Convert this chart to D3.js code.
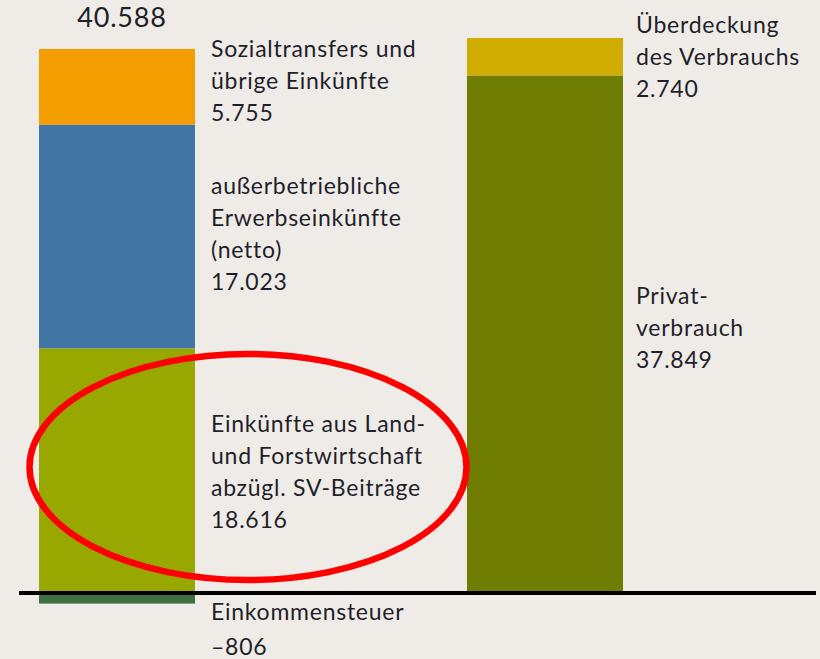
<!DOCTYPE html>
<html>
<head>
<meta charset="utf-8">
<script src="https://cdn.jsdelivr.net/npm/d3@7"></script>
<style>
  html, body { margin: 0; padding: 0; background: #efece8; }
  svg { display: block; }
  text { font-family: Lato, "Open Sans", sans-serif; fill: #1f1f2b; }
</style>
</head>
<body>
<svg id="chart"></svg>
<script>
// Einkommen (links) und Verwendung (rechts), Euro je Betrieb
const incomeKeys = ['steuer', 'landforst', 'ausserbetrieblich', 'sozial'];
const incomeValues = [-806, 18616, 17023, 5755];
const incomeLabels = [
  ['Einkommensteuer'],
  ['Einkünfte aus Land-', 'und Forstwirtschaft', 'abzügl. SV-Beiträge'],
  ['außerbetriebliche', 'Erwerbseinkünfte', '(netto)'],
  ['Sozialtransfers und', 'übrige Einkünfte']
];
const useKeys = ['privat', 'ueberdeckung'];
const useValues = [37849, 2740];
const useLabels = [
  ['Privat-', 'verbrauch'],
  ['Überdeckung', 'des Verbrauchs']
];
const netIncome = 40588;

(function () {
  const width = 820, height = 659;
  const svg = d3.select('#chart').attr('width', width).attr('height', height);

  const de = d3.formatLocale({ decimal: ',', thousands: '.', grouping: [3], currency: ['', ' €'], minus: '–' });
  const fmt = de.format(',d');

  const colors = {
    steuer: '#3d7040',
    landforst: '#99a801',
    ausserbetrieblich: '#4176a4',
    sozial: '#f49d00',
    privat: '#6f7e03',
    ueberdeckung: '#d1ac00'
  };

  // the two columns are not drawn on a common scale in the original
  const baseY = 593;
  const posSum = d3.sum(incomeValues.filter(v => v > 0));
  const yLeft = d3.scaleLinear().domain([0, posSum]).range([baseY, 49]);
  const yRight = d3.scaleLinear().domain([0, d3.sum(useValues)]).range([baseY, 38]);

  const barW = 156;
  const colX = { income: 39, use: 467 };

  function stack(keys, values) {
    let pos = 0, neg = 0;
    return keys.map((k, i) => {
      const v = values[i];
      let y0, y1;
      if (v >= 0) { y0 = pos; y1 = pos + v; pos = y1; }
      else { y0 = neg + v; y1 = neg; neg = y0; }
      return { key: k, value: v, y0, y1 };
    });
  }

  const left = stack(incomeKeys, incomeValues);
  const right = stack(useKeys, useValues);

  svg.append('g')
    .selectAll('rect')
    .data(left)
    .join('rect')
    .attr('x', colX.income)
    .attr('width', barW)
    .attr('y', d => yLeft(d.y1))
    .attr('height', d => yLeft(d.y0) - yLeft(d.y1))
    .attr('fill', d => colors[d.key]);

  svg.append('g')
    .selectAll('rect')
    .data(right)
    .join('rect')
    .attr('x', colX.use)
    .attr('width', barW)
    .attr('y', d => yRight(d.y1))
    .attr('height', d => yRight(d.y0) - yRight(d.y1))
    .attr('fill', d => colors[d.key]);

  // baseline
  svg.append('line')
    .attr('x1', 19).attr('x2', 816)
    .attr('y1', yLeft(0)).attr('y2', yLeft(0))
    .attr('stroke', '#000')
    .attr('stroke-width', 4);

  // total on top of the income column
  svg.append('text')
    .attr('x', colX.income + barW / 2 + 5)
    .attr('y', 27)
    .attr('text-anchor', 'middle')
    .attr('font-size', 27)
    .attr('letter-spacing', 0.8)
    .text(fmt(netIncome));

  // labels: first baseline of each block
  const lineH = 32;
  const leftLabelY = { steuer: 620, landforst: 432, ausserbetrieblich: 194, sozial: 57 };
  const rightLabelY = { privat: 304, ueberdeckung: 33 };

  function addLabel(lines, value, x0, y0, lastGap) {
    const t = svg.append('text').attr('font-size', 23).attr('letter-spacing', 0.75);
    lines.forEach((l, i) => {
      t.append('tspan').attr('x', x0).attr('y', y0 + i * lineH).text(l);
    });
    t.append('tspan').attr('x', x0).attr('y', y0 + (lines.length - 1) * lineH + lastGap).text(fmt(value));
  }

  left.forEach((d, i) => {
    addLabel(incomeLabels[i], d.value, 211, leftLabelY[d.key], d.key === 'steuer' ? 35 : lineH);
  });
  right.forEach((d, i) => {
    addLabel(useLabels[i], d.value, 636, rightLabelY[d.key], lineH);
  });

  // red highlight around the farm income label
  svg.append('ellipse')
    .attr('cx', 248).attr('cy', 467)
    .attr('rx', 218.5).attr('ry', 113)
    .attr('fill', 'none')
    .attr('stroke', '#ff0000')
    .attr('stroke-width', 6.5);
})();
</script>
</body>
</html>
